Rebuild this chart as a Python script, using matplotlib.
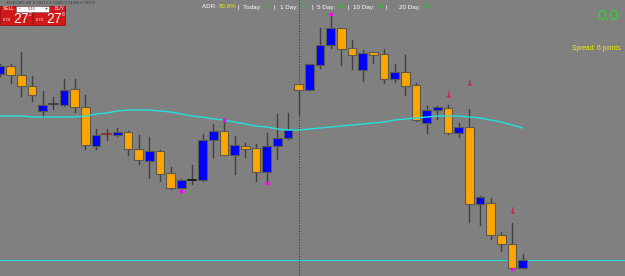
import numpy as np
import matplotlib
matplotlib.use('Agg')
import matplotlib.pyplot as plt
from matplotlib.patches import Rectangle

# candles (price in points), one entry per bar
opens  = [202, 210, 201, 190, 165, 172, 171, 187, 169, 130, 142, 141, 144, 127, 115, 125, 103,  88,  96,  96,
          136, 145, 121, 130, 128, 104, 130, 138, 192, 186, 211, 231, 248, 228, 206, 224, 222, 197, 204, 191,
          153, 166, 168, 143, 149,  72,  73,  41,  32,   8]
highs  = [212, 212, 224, 200, 185, 179, 197, 197, 181, 147, 147, 148, 145, 141, 139, 126, 109,  97, 111, 142,
          152, 157, 140, 133, 132, 143, 162, 163, 192, 212, 248, 260, 248, 236, 226, 224, 227, 212, 221, 193,
          170, 170, 171, 153, 167,  80,  78,  44,  53,  22]
lows   = [200, 193, 180, 175, 159, 167, 170, 164, 127, 127, 136, 140, 121, 112,  98,  95,  87,  88,  92,  95,
          119, 121, 102, 119,  95,  94, 117, 137, 161, 186, 208, 228, 211, 207, 195, 213, 193, 194, 181, 155,
          143, 157, 142, 139,  54,  51,  37,  25,   7,   8]
closes = [210, 201, 190, 181, 171, 172, 186, 169, 131, 141, 142, 144, 127, 116, 125, 102,  88,  96,  96, 136,
          145, 121, 131, 127, 104, 130, 138, 146, 186, 212, 231, 248, 227, 221, 223, 221, 197, 204, 190, 156,
          166, 169, 143, 149,  72,  79,  41,  32,   8,  16]

# moving average per bar
ma = [160, 160, 160, 159, 159, 159, 159, 159, 160, 162, 163, 165, 166, 166, 166, 165, 164, 162, 160, 159,
      157, 156, 154, 152, 150, 149, 147, 146, 146, 147, 148, 149, 150, 151, 152, 153, 154, 156, 157, 158,
      159, 160, 160, 160, 159, 158, 156, 154, 151, 148]

arrow_bars = [42, 44, 48]
arrow_prices = [180, 192, 64]
mark_bars = [17, 21, 25, 31, 48]
mark_prices = [85, 156, 93, 262, 7]
bid = 16
separator_bar = 28

bg = '#808080'
fig = plt.figure(figsize=(6.25, 2.76), dpi=100, facecolor=bg)
ax = fig.add_axes([0, 0, 1, 1])
ax.set_facecolor(bg)
ax.set_xlim(0, 58.6)
ax.set_ylim(0, 276)
ax.axis('off')

w = 0.82
doji_colors = {5: '#3a3a3a', 10: '#8b2a10', 18: '#101010'}
for i, (o, h, l, c) in enumerate(zip(opens, highs, lows, closes)):
    ax.plot([i, i], [l, h], color='#404040', lw=1.0, zorder=2)
    if o == c:
        ax.plot([i - w / 2, i + w / 2], [o, o], color=doji_colors.get(i, '#202020'), lw=1.2, zorder=3)
        continue
    col = '#0000ff' if c > o else '#ffa500'
    ax.add_patch(Rectangle((i - w / 2, min(o, c)), w, abs(c - o), facecolor=col,
                           edgecolor='#5a5a50', lw=0.8, zorder=3))

ax.plot(range(len(ma)), ma, color='#22e0e0', lw=1.0, zorder=4)
ax.axhline(bid, color='#22d8d8', lw=0.8, zorder=1)
ax.axvline(separator_bar, color='#404040', lw=0.8, ls=(0, (1, 1.5)), zorder=1)

for b, p in zip(arrow_bars, arrow_prices):
    ax.text(b, p, '↓', color='#dc1440', fontsize=6.5, fontweight='bold', ha='center', va='center', zorder=5)
ax.scatter(mark_bars, mark_prices, marker='s', s=4, color='#ff00ff', zorder=5)

# overlay panels and labels
def px(x, y):
    return x / 625, 1 - y / 276

fnt = 'Liberation Sans'
fig.text(*px(4, 2.5), '◦ EURUSD,H4  0.74272 0.74285 0.74260 0.74272', fontsize=3, color='#3a3a3a',
         family=fnt, va='center')
fig.patches.append(Rectangle(px(0, 25), 32 / 625, 19 / 276, transform=fig.transFigure,
                             facecolor='#d01818', edgecolor='#a00000', lw=0.5))
fig.patches.append(Rectangle(px(33, 25), 32 / 625, 19 / 276, transform=fig.transFigure,
                             facecolor='#d01818', edgecolor='#a00000', lw=0.5))
fig.patches.append(Rectangle(px(16, 12), 33 / 625, 6 / 276, transform=fig.transFigure,
                             facecolor='white', edgecolor='#606060', lw=0.4))
fig.text(*px(3, 9), 'SELL', fontsize=3.5, color='white', family=fnt, va='center')
fig.text(*px(55, 9), 'BUY', fontsize=3.5, color='white', family=fnt, va='center')
fig.text(*px(19, 9), '-', fontsize=3.5, color='black', family=fnt, va='center')
fig.text(*px(32, 9), '0.10', fontsize=3, color='#404040', family=fnt, va='center', ha='center')
fig.text(*px(45, 9), '+', fontsize=3.5, color='black', family=fnt, va='center')
for x0, last in [(0, '2'), (33, '8')]:
    fig.text(*px(x0 + 3, 20), '0.74', fontsize=3, color='white', family=fnt, va='center')
    big = fig.text(*px(x0 + 13, 19), '27', fontsize=10, color='white', family=fnt, va='center')
    fig.canvas.draw()
    bx = big.get_window_extent().x1
    fig.text(bx / 625 + 0.001, 1 - 15 / 276, last, fontsize=3.5, color='white', family=fnt, va='center')

items = [(202, 'ADR: ', '89.8%', '#e8e800'), (243, 'Today: ', '47', '#22cc22'),
         (280, '1 Day: ', '70', '#22cc22'), (317, '5 Day: ', '56', '#22cc22'),
         (353, '10 Day: ', '50', '#22cc22'), (399, '20 Day: ', '55', '#22cc22')]
seps = [237, 274, 311, 348, 386]
for x0, lab, val, col in items:
    t = fig.text(*px(x0, 7), lab, fontsize=4.5, color='white', family=fnt, va='center')
    fig.canvas.draw()
    bb = t.get_window_extent()
    fig.text(bb.x1 / 625, 1 - 7 / 276, val, fontsize=4.5, color=col, family=fnt, va='center')
for s in seps:
    fig.text(*px(s, 7), '|', fontsize=4.5, color='white', family=fnt, va='center')

fig.text(*px(618, 16), '0.0', fontsize=11, color='#22dd22', family=fnt, va='center', ha='right')
fig.text(*px(620, 48), 'Spread: 6 points', fontsize=4.8, color='#f0f000', family=fnt, va='center', ha='right')

fig.savefig('out.png', dpi=100, facecolor=bg)
